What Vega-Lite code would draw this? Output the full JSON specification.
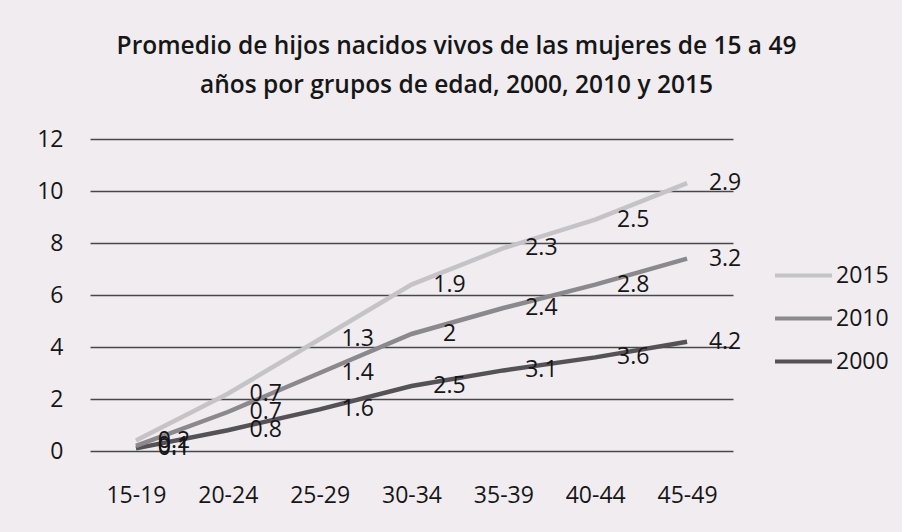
{
  "$schema": "https://vega.github.io/schema/vega-lite/v6.json",
  "autosize": {"type": "none"},
  "width": 643,
  "height": 312,
  "padding": {"left": 90, "top": 139, "right": 169, "bottom": 81},
  "background": "#f0ecf0",
  "config": {
    "view": {"stroke": null},
    "font": "Open Sans"
  },
  "title": {
    "text": ["Promedio de hijos nacidos vivos de las mujeres de 15 a 49", "años por grupos de edad, 2000, 2010 y 2015"],
    "font": "Open Sans",
    "fontSize": 24.5,
    "fontWeight": 600,
    "color": "#161616",
    "anchor": "middle",
    "dx": 45,
    "lineHeight": 39,
    "offset": 30
  },
  "data": {
    "values": [
      {"grupo": "15-19", "serie": "2000", "ord": 1, "valor": 0.1},
      {"grupo": "20-24", "serie": "2000", "ord": 1, "valor": 0.8},
      {"grupo": "25-29", "serie": "2000", "ord": 1, "valor": 1.6},
      {"grupo": "30-34", "serie": "2000", "ord": 1, "valor": 2.5},
      {"grupo": "35-39", "serie": "2000", "ord": 1, "valor": 3.1},
      {"grupo": "40-44", "serie": "2000", "ord": 1, "valor": 3.6},
      {"grupo": "45-49", "serie": "2000", "ord": 1, "valor": 4.2},
      {"grupo": "15-19", "serie": "2010", "ord": 2, "valor": 0.1},
      {"grupo": "20-24", "serie": "2010", "ord": 2, "valor": 0.7},
      {"grupo": "25-29", "serie": "2010", "ord": 2, "valor": 1.4},
      {"grupo": "30-34", "serie": "2010", "ord": 2, "valor": 2},
      {"grupo": "35-39", "serie": "2010", "ord": 2, "valor": 2.4},
      {"grupo": "40-44", "serie": "2010", "ord": 2, "valor": 2.8},
      {"grupo": "45-49", "serie": "2010", "ord": 2, "valor": 3.2},
      {"grupo": "15-19", "serie": "2015", "ord": 3, "valor": 0.2},
      {"grupo": "20-24", "serie": "2015", "ord": 3, "valor": 0.7},
      {"grupo": "25-29", "serie": "2015", "ord": 3, "valor": 1.3},
      {"grupo": "30-34", "serie": "2015", "ord": 3, "valor": 1.9},
      {"grupo": "35-39", "serie": "2015", "ord": 3, "valor": 2.3},
      {"grupo": "40-44", "serie": "2015", "ord": 3, "valor": 2.5},
      {"grupo": "45-49", "serie": "2015", "ord": 3, "valor": 2.9}
    ]
  },
  "transform": [
    {"stack": "valor", "groupby": ["grupo"], "sort": [{"field": "ord", "order": "ascending"}], "as": ["y0", "y1"]}
  ],
  "encoding": {
    "x": {
      "field": "grupo",
      "type": "ordinal",
      "scale": {"type": "point", "padding": 0.5},
      "axis": {
        "title": null,
        "labelAngle": 0,
        "labelFontSize": 23,
        "labelColor": "#161616",
        "labelPadding": 33,
        "ticks": false,
        "domain": false,
        "grid": false
      }
    },
    "y": {
      "field": "y1",
      "type": "quantitative",
      "scale": {"domain": [0, 12]},
      "axis": {
        "title": null,
        "values": [0, 2, 4, 6, 8, 10, 12],
        "labelFontSize": 23,
        "labelColor": "#161616",
        "labelPadding": 27,
        "ticks": false,
        "domain": false,
        "grid": true,
        "gridColor": "#4a474c",
        "gridWidth": 1.5,
        "gridOpacity": 1
      }
    }
  },
  "layer": [
    {
      "mark": {"type": "line", "strokeWidth": 4.5},
      "encoding": {
        "color": {
          "field": "serie",
          "type": "nominal",
          "scale": {"domain": ["2015", "2010", "2000"], "range": ["#c6c3c8", "#8c898e", "#555257"]},
          "legend": {
            "title": null,
            "orient": "none",
            "legendX": 683,
            "legendY": 106,
            "symbolType": "stroke",
            "symbolSize": 3249,
            "symbolStrokeWidth": 4,
            "labelFontSize": 23,
            "labelColor": "#161616",
            "labelOffset": 2,
            "rowPadding": -10
          }
        }
      }
    },
    {
      "mark": {"type": "text", "dx": 38, "fontSize": 23, "color": "#161616", "align": "center", "baseline": "middle"},
      "encoding": {
        "text": {"field": "valor", "type": "quantitative"}
      }
    }
  ]
}
